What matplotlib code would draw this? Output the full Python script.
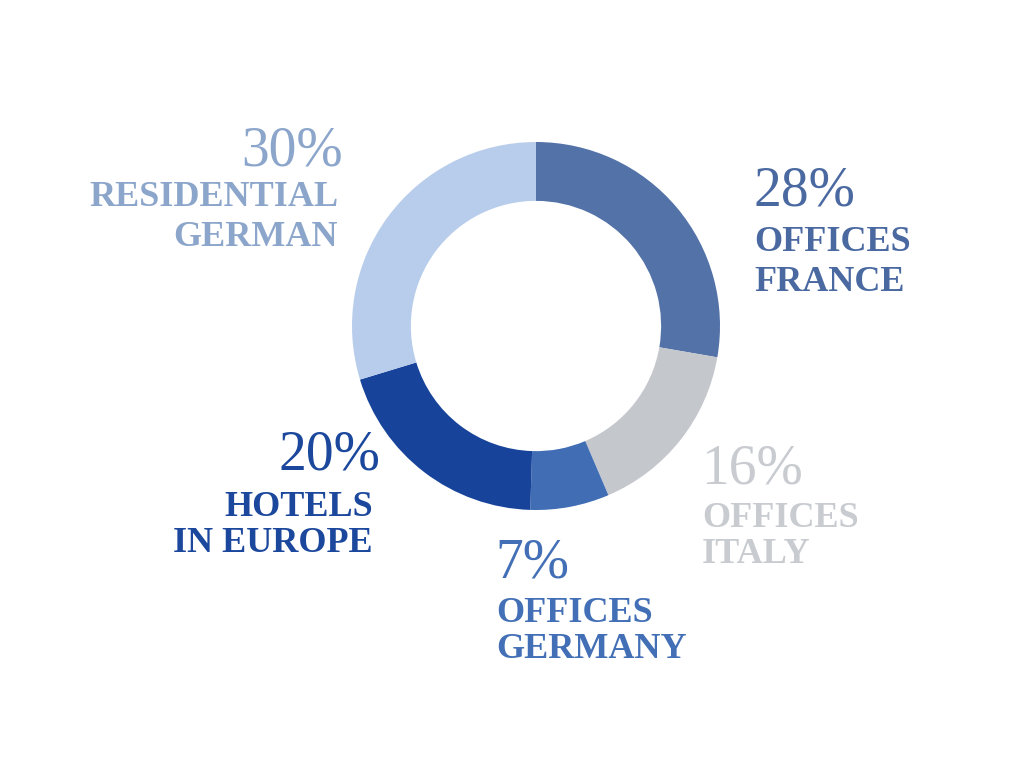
import matplotlib
matplotlib.use("Agg")
import matplotlib.pyplot as plt

# Portfolio allocation by segment (percent)
segments = ["OFFICES\nFRANCE", "OFFICES\nITALY", "OFFICES\nGERMANY",
            "HOTELS\nIN EUROPE", "RESIDENTIAL\nGERMAN"]
shares = [28, 16, 7, 20, 30]
wedge_colors = ["#5372A8", "#C4C7CC", "#406DB4", "#17449A", "#B8CDEB"]
text_colors = ["#4A69A1", "#C8CBD0", "#426FB5", "#1B479C", "#8CA6CB"]

W, H = 1024, 772
fig = plt.figure(figsize=(W / 100, H / 100), dpi=100)
ax = fig.add_axes([0, 0, 1, 1])

cx, cy, R = 536, H - 326, 184
ax.pie(shares, colors=wedge_colors, startangle=90, counterclock=False,
       center=(cx, cy), radius=R, frame=True,
       wedgeprops=dict(width=R * 0.32, linewidth=0))
ax.set_xlim(0, W)
ax.set_ylim(0, H)
ax.set_aspect("equal")
ax.axis("off")

# label blocks: percent x, label x, alignment, baselines (from top, px)
blocks = [
    (754, 754, "left", (205, 251, 291)),
    (701, 702, "left", (483, 527, 563)),
    (495, 496, "left", (577, 622, 658)),
    (380, 373, "right", (470, 516, 552)),
    (343, 338, "right", (165, 206, 246)),
]

serif = ["Liberation Serif", "DejaVu Serif"]
for (xp, xl, ha, ys), seg, val, col in zip(blocks, segments, shares, text_colors):
    ax.text(xp, H - ys[0], f"{val}%", ha=ha, va="baseline", fontsize=40,
            family=serif, color=col)
    for line, yb in zip(seg.split("\n"), ys[1:]):
        ax.text(xl, H - yb, line, ha=ha, va="baseline",
                fontsize=26, family=serif, fontweight="bold", color=col)

fig.savefig("out.png", dpi=100, facecolor="white")
